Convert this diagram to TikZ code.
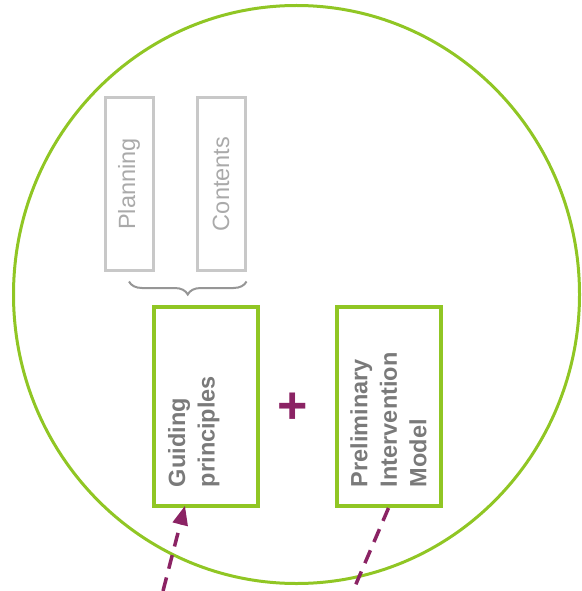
\documentclass[tikz,border=0pt]{standalone}
\usepackage{fontspec}
\setmainfont{Liberation Sans}
\usepackage{xcolor}
\usetikzlibrary{arrows,shapes,calc,decorations.pathreplacing}
\definecolor{leaf}{RGB}{144,198,36}
\definecolor{plum}{RGB}{139,35,100}
\definecolor{framegray}{RGB}{200,200,200}
\definecolor{bracegray}{RGB}{150,150,150}
\definecolor{labelgray}{RGB}{122,122,122}
\definecolor{softgray}{RGB}{170,170,170}

\begin{document}
\begin{tikzpicture}[x=1pt, y=-1pt, item node/.style={rotate=90, draw=framegray, line width=3pt, minimum width=172pt, minimum height=48pt, inner sep=0pt, text=softgray, font=\fontsize{23.5}{28}\selectfont}, main node/.style={rotate=90, draw=leaf, line width=4pt, minimum width=199pt, minimum height=104pt, inner xsep=19pt, inner ysep=0pt, text width=161pt, align=left, text=labelgray, font=\bfseries\fontsize{23.5}{29.5}\selectfont}, link/.style={plum, line width=3.5pt, dash pattern=on 14pt off 9pt}]
\useasboundingbox (0,0) rectangle (581,591);
\draw[leaf, line width=3pt] (296.5,294.5) ellipse (283pt and 289pt);
\node[item node] (pl) at (129,184) {Planning};
\node[item node] (ct) at (221,184) {Contents};
\node[main node] (gp) at (206,406.5) {Guiding\\principles\\~};
\node[main node] (pim) at (388.5,406.5) {Preliminary\\Intervention\\Model};
\node[text=plum, font=\bfseries\fontsize{52}{52}\selectfont] (plus) at (293,408) {+};
\coordinate (a1) at (163,591);
\coordinate (a2) at (353,591);
\draw[decorate, decoration={brace, amplitude=13pt}, bracegray, line width=2pt] ([yshift=-10pt]ct.south west) -- ([yshift=-10pt]pl.west);
\path
(a1) edge[link, -triangle 45, shorten >=-2pt] ($(gp.north west)!0.3!(gp.south west)$)
(pim.west) edge[link] (a2);
\end{tikzpicture}
\end{document}
